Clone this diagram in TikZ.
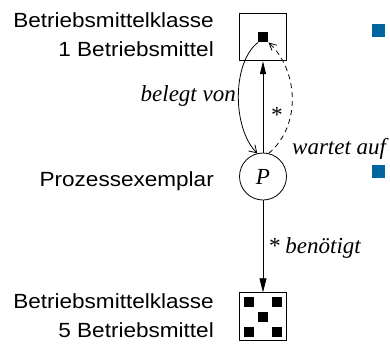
\documentclass[tikz,border=0pt]{standalone}
\usepackage{fontspec}
\setmainfont{Liberation Serif}
\newfontfamily\labsans[FakeStretch=1.1]{Liberation Sans}
\usetikzlibrary{arrows.meta}
\definecolor{bulletblue}{RGB}{0,102,160}
\tikzset{
  sidetext/.style={font=\labsans\fontsize{20.5}{24}\selectfont, inner sep=0pt, anchor=base east},
  rel/.style={font=\itshape\fontsize{23}{26}\selectfont, inner sep=0pt},
  classbox/.style={draw, line width=0.9pt, minimum size=47.5pt, inner sep=0pt},
  token/.style={fill=black, minimum size=10pt, inner sep=0pt},
  proc/.style={draw, circle, line width=0.8pt, minimum size=47pt, inner sep=0pt, font=\itshape\fontsize{23}{26}\selectfont},
  conn/.style={line width=0.8pt},
  bullet/.style={fill=bulletblue, minimum size=13pt, inner sep=0pt}
}
\begin{document}
\begin{tikzpicture}[x=1pt,y=-1pt]
\useasboundingbox (0,0) rectangle (390,346);
% texts left
\node[sidetext] (t1) at (214,27) {Betriebsmittelklasse};
\node[sidetext] (t2) at (214,56) {1 Betriebsmittel};
\node[sidetext] (t3) at (214,186) {Prozessexemplar};
\node[sidetext] (t4) at (214,308) {Betriebsmittelklasse};
\node[sidetext] (t5) at (214,337) {5 Betriebsmittel};
% boxes
\node[classbox] (box1) at (263,37) {};
\node[token] (sq1) at (263.3,37.2) {};
\node[proc] (P) at (263,176.5) {P};
\node[classbox] (box2) at (263,316.5) {};
\node[token] (s1) at (249,302) {};
\node[token] (s2) at (277,302) {};
\node[token] (s3) at (263,317) {};
\node[token] (s4) at (249,332) {};
\node[token] (s5) at (277,332) {};
% connectors
\draw[conn,-{Triangle[length=13pt,width=6pt]}] (P.north) -- (box1.south);
\draw[conn,-{Triangle[length=14pt,width=7pt]}] (P.south) -- (box2.north);
\draw[conn,-{Straight Barb[length=7pt,width=9pt]}] (sq1.south west) .. controls (232,62) and (232,128) .. (P.104);
\draw[conn,dash pattern=on 5pt off 4pt,-{Straight Barb[length=7pt,width=7pt]}] (P.76) .. controls (302,125) and (298,70) .. (sq1.south east);
% labels
\node[rel, anchor=base west] (star1) at (270,122) {*};
\node[rel, anchor=base east] (lb1) at (236,101) {belegt von};
\node[rel, anchor=base west] (lb2) at (292,154) {wartet auf};
\node[rel, anchor=base west] (lb3) at (268,253) {* benötigt};
% bullets
\node[bullet] (b1) at (378.5,30.5) {};
\node[bullet] (b2) at (378.5,171.5) {};
\end{tikzpicture}
\end{document}
